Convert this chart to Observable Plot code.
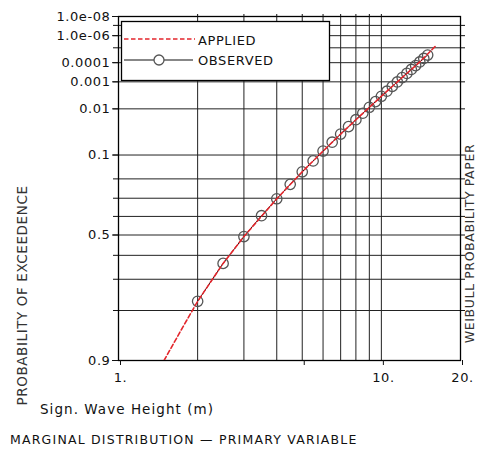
<!DOCTYPE html>
<html>
<head>
<meta charset="utf-8">
<script src="https://cdn.jsdelivr.net/npm/d3@7"></script>
<script src="https://cdn.jsdelivr.net/npm/@observablehq/plot@0.6"></script>
<style>
  html, body { margin: 0; padding: 0; background: #fff; }
  #wrap { position: relative; width: 477px; height: 455px; overflow: hidden; font-family: "DejaVu Sans", sans-serif; color: #111; }
  #wrap svg text { letter-spacing: 0.6px; }
  .xlabel { position: absolute; left: 40px; top: 400px; font-size: 13.5px; letter-spacing: 1.05px; white-space: nowrap; line-height: 18px; }
  .caption { position: absolute; left: 10px; top: 431px; font-size: 12.5px; letter-spacing: 1.2px; white-space: nowrap; line-height: 18px; }
</style>
</head>
<body>
<div id="wrap"></div>
<script>
// ---- data ----
const obsH = [2, 2.5, 3, 3.5, 4, 4.5, 5, 5.5, 6, 6.5, 7, 7.5, 8, 8.5, 9, 9.5, 10, 10.5, 11, 11.5, 12, 12.5, 13, 13.5, 14, 14.5, 15];
const obsP = [0.774, 0.636, 0.508, 0.396, 0.303, 0.227, 0.167, 0.1215, 0.0869, 0.0613, 0.0427, 0.0294, 0.0200, 0.0134, 0.00895, 0.00589, 0.00384, 0.00247, 0.00158, 0.00101, 0.00063, 0.000394, 0.000243, 0.000149, 0.0000907, 0.0000546, 0.0000326];
const appH = [1.49, 1.75, 2, 2.5, 3, 4, 5, 6, 7, 8, 10, 12, 14, 16];
const appP = [0.90, 0.842, 0.774, 0.636, 0.508, 0.303, 0.167, 0.0869, 0.0427, 0.0200, 0.00384, 0.00063, 0.0000907, 0.000008];
const yTickValues = [1e-8, 1e-6, 1e-4, 1e-3, 0.01, 0.1, 0.5, 0.9];
const yTickLabels = ["1.0e-08", "1.0e-06", "0.0001", "0.001", "0.01", "0.1", "0.5", "0.9"];
const yGridValues = [1e-7, 1e-6, 1e-5, 1e-4, 1e-3, 0.01, 0.1, 0.2, 0.3, 0.4, 0.5, 0.6, 0.7, 0.8];
const xGridValues = [2, 3, 4, 5, 6, 7, 8, 9, 10];
const xTickValues = [1, 5, 10, 20];
const xTickLabels = ["1.", "", "10.", "20."];
const seriesNames = ["APPLIED", "OBSERVED"];
const yTitle = "PROBABILITY OF EXCEEDENCE";
const paperTitle = "WEIBULL PROBABILITY PAPER";
const xTitle = "Sign. Wave Height (m)";
const captionText = "MARGINAL DISTRIBUTION \u2014 PRIMARY VARIABLE";

// Weibull paper transform
const f = p => Math.log(-Math.log(p));
const observed = obsH.map((h, i) => ({h, p: obsP[i]}));
const applied = appH.map((h, i) => ({h, p: appP[i]}));
const yLabelFor = d => {
  const i = yTickValues.findIndex(p => Math.abs(f(p) - d) < 1e-9);
  return i >= 0 ? yTickLabels[i] : "";
};
const xLabelFor = d => {
  const i = xTickValues.findIndex(v => Math.abs(v - d) < 1e-9);
  return i >= 0 ? xTickLabels[i] : "";
};

const RED = "#e3262c";

const chart = Plot.plot({
  width: 477,
  height: 395,
  marginLeft: 118,
  marginRight: 17,
  marginTop: 16,
  marginBottom: 35,
  style: {fontFamily: "DejaVu Sans, sans-serif", fontSize: "13px", color: "#111", background: "#fff", overflow: "visible"},
  x: {type: "log", domain: [1, 20]},
  y: {type: "linear", domain: [f(0.9), f(1e-8)]},
  marks: [
    Plot.ruleX(xGridValues, {x: d => d, stroke: "#222", strokeWidth: 1}),
    Plot.ruleY(yGridValues, {y: d => f(d), stroke: "#222", strokeWidth: 1}),
    Plot.frame({stroke: "#000", strokeWidth: 1.3}),
    Plot.axisX({ticks: xTickValues, tickSize: 5, tickPadding: 7, tickFormat: xLabelFor, label: null, fontSize: 13, dx: 2}),
    Plot.axisX({anchor: "top", ticks: xGridValues, tickSize: 3, tickFormat: () => "", label: null}),
    Plot.axisY({ticks: yTickValues.map(f), tickSize: 6, tickPadding: 2, tickFormat: yLabelFor, label: null, fontSize: 13}),
    Plot.axisY({ticks: yGridValues.map(f), tickSize: 5, tickFormat: () => "", label: null}),
    Plot.axisY({anchor: "right", ticks: yGridValues.map(f), tickSize: 4, tickFormat: () => "", label: null}),
    Plot.line(observed, {x: "h", y: d => f(d.p), stroke: "#111", strokeWidth: 1}),
    Plot.dot(observed, {x: "h", y: d => f(d.p), r: 5.2, stroke: "#555", strokeWidth: 1.3, fill: "none"}),
    Plot.line(applied, {x: "h", y: d => f(d.p), stroke: RED, strokeWidth: 1.6, strokeDasharray: "4.5,2.5", clip: true}),
    Plot.text([yTitle], {frameAnchor: "left", textAnchor: "middle", dx: -96, dy: 107, rotate: -90, fontSize: 13.5, fill: "#333"}),
    Plot.text([paperTitle], {frameAnchor: "right", textAnchor: "middle", dx: 9.5, dy: 55, rotate: -90, fontSize: 12.5, fill: "#333"})
  ]
});

// legend box inside the plot
const svg = d3.select(chart);
const lg = svg.append("g").attr("class", "legend").attr("text-anchor", "start");
lg.append("rect").attr("x", 121.5).attr("y", 21.5).attr("width", 208).attr("height", 59)
  .attr("fill", "#fff").attr("stroke", "#000").attr("stroke-width", 1.3);
lg.append("line").attr("x1", 124).attr("x2", 195).attr("y1", 39).attr("y2", 39)
  .attr("stroke", RED).attr("stroke-width", 1.6).attr("stroke-dasharray", "4.5,2.5");
lg.append("line").attr("x1", 124).attr("x2", 193).attr("y1", 60).attr("y2", 60)
  .attr("stroke", "#111").attr("stroke-width", 1.2);
lg.append("circle").attr("cx", 159).attr("cy", 60).attr("r", 5)
  .attr("fill", "#fff").attr("stroke", "#555").attr("stroke-width", 1.3);
lg.append("text").attr("x", 198).attr("y", 45).attr("font-size", 13).attr("fill", "#111").attr("text-anchor", "start").attr("letter-spacing", "0.5px").text(seriesNames[0]);
lg.append("text").attr("x", 198).attr("y", 65).attr("font-size", 13).attr("fill", "#111").attr("text-anchor", "start").attr("letter-spacing", "0.3px").text(seriesNames[1]);

const wrap = document.getElementById("wrap");
wrap.appendChild(chart);
const xl = document.createElement("div");
xl.className = "xlabel"; xl.textContent = xTitle;
wrap.appendChild(xl);
const cap = document.createElement("div");
cap.className = "caption"; cap.textContent = captionText;
wrap.appendChild(cap);
</script>
</body>
</html>
